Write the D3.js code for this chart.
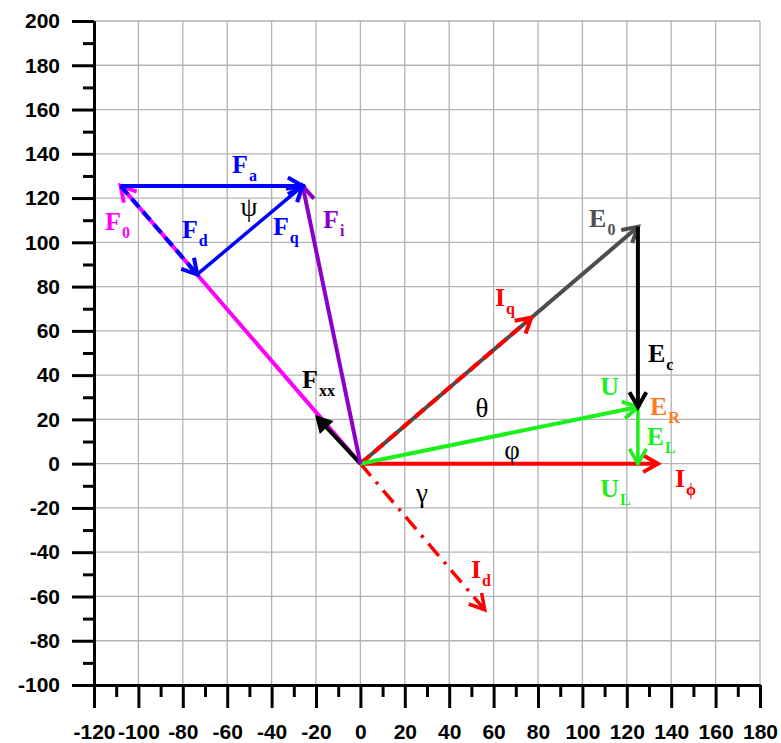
<!DOCTYPE html>
<html><head><meta charset="utf-8">
<script src="https://cdn.jsdelivr.net/npm/d3@7"></script>
<style>
html,body{margin:0;padding:0;background:#fff;}
svg{display:block;}
</style></head>
<body>
<svg id="chart" width="781" height="743"></svg>
<script>
// Axis extents and tick values
const xDomain = [-120, 180];
const yDomain = [-100, 200];
const xMajorTicks = d3.range(-120, 181, 20);
const xMinorTicks = d3.range(-110, 180, 20);
const yMajorTicks = d3.range(-100, 201, 20);
const yMinorTicks = d3.range(-90, 200, 20);

// Phasors: key, start point, end point (chart units)
const vectorKeys   = ["E0", "Iq", "Id", "Iphi", "U", "EL", "Ec", "F0", "Fd", "Fxx", "Fi", "Fa", "Fq"];
const vectorStarts = [[0,0], [0,0], [0,0], [0,0], [0,0], [125,25.6], [125,107], [0,0], [-108,125.5], [0,0], [0,0], [-108,125.5], [-73.5,85.5]];
const vectorEnds   = [[125,107], [77,66], [56,-66], [134,0], [125,25.6], [125,0], [125,25.6], [-108,125.5], [-73.5,85.5], [-20,21.5], [-26,125.5], [-26,125.5], [-26,125.5]];

// Vector labels: letter, subscript, anchor (chart units, left/baseline)
const labelMain = ["F", "F", "F", "F", "F", "F", "E", "I", "E", "U", "E", "E", "U", "I", "I"];
const labelSub  = ["a", "0", "d", "q", "i", "xx", "0", "q", "c", "", "R", "L", "L", "\u03d5", "d"];
const labelPos  = [[-57.8,131.3], [-115,105.5], [-80.4,102], [-39.4,103.3], [-16.8,106.5], [-26.3,34.2],
                   [103,107], [60.6,71.3], [129.5,46], [108,31], [130.4,22], [129,8.4], [108,-15], [141.7,-10.5], [49.8,-51.7]];

// Angle labels (chart units, centre)
const angleNames = ["\u03c8", "\u03b8", "\u03c6", "\u03b3"];
const anglePos   = [[-50.2,116], [54.8,25.2], [68.3,6.2], [27.7,-13.2]];

// ---- styles ----
const C = {
  red: "#ff0000", green: "#1cf01c", blue: "#0000ff", magenta: "#ff00ff",
  purple: "#8c00cc", gray: "#4d4d4d", black: "#000000", orange: "#ff7a22"
};
const vectorStyle = {
  E0:   {color: C.gray,    width: 4},
  Iq:   {color: C.red,     width: 4, dash: "12,6"},
  Id:   {color: C.red,     width: 3.5, dash: "16,8,3,8"},
  Iphi: {color: C.red,     width: 4},
  U:    {color: C.green,   width: 4},
  EL:   {color: C.green,   width: 3.5},
  Ec:   {color: C.black,   width: 4},
  F0:   {color: C.magenta, width: 4},
  Fd:   {color: C.blue,    width: 4, dash: "11,6"},
  Fxx:  {color: C.black,   width: 4, filled: true},
  Fi:   {color: C.purple,  width: 4},
  Fa:   {color: C.blue,    width: 4},
  Fq:   {color: C.blue,    width: 3.5}
};
const labelColor = {
  Fa: C.blue, F0: C.magenta, Fd: C.blue, Fq: C.blue, Fi: C.purple, Fxx: C.black,
  E0: "#505050", Iq: C.red, Ec: C.black, U: C.green, ER: C.orange, EL: C.green,
  UL: C.green, "I\u03d5": C.red, Id: C.red
};

const svg = d3.select("#chart");
const x = d3.scaleLinear().domain(xDomain).range([94, 760]);
const y = d3.scaleLinear().domain(yDomain).range([685, 21]);

// grid
const grid = svg.append("g").attr("stroke", "#b3b3b3").attr("stroke-width", 1.3);
grid.selectAll("line.v").data(xMajorTicks.filter(v => v > xDomain[0])).join("line")
  .attr("class", "v")
  .attr("x1", d => x(d)).attr("x2", d => x(d)).attr("y1", y(yDomain[0])).attr("y2", y(yDomain[1]));
grid.selectAll("line.h").data(yMajorTicks.filter(v => v > yDomain[0])).join("line")
  .attr("class", "h")
  .attr("y1", d => y(d)).attr("y2", d => y(d)).attr("x1", x(xDomain[0])).attr("x2", x(xDomain[1]));

function styleAxis(g) {
  g.select(".domain").attr("stroke", "#000").attr("stroke-width", 3);
  g.selectAll(".tick line").attr("stroke", "#000").attr("stroke-width", 3);
  g.selectAll(".tick text").attr("fill", "#000")
    .style("font-family", "'Liberation Sans', Arial, sans-serif")
    .style("font-weight", "bold").style("font-size", "21px");
}
const tickText = d => String(d);

// left axis
const yAxisG = svg.append("g").attr("transform", `translate(${x(xDomain[0])},0)`);
yAxisG.append("g").call(d3.axisLeft(y).tickValues(yMinorTicks).tickSize(11).tickSizeOuter(0).tickFormat(""))
  .call(styleAxis);
yAxisG.append("g").call(d3.axisLeft(y).tickValues(yMajorTicks).tickSize(22).tickSizeOuter(0).tickPadding(12).tickFormat(tickText))
  .call(styleAxis);

// bottom axis
const xAxisG = svg.append("g").attr("transform", `translate(0,${y(yDomain[0])})`);
xAxisG.append("g").call(d3.axisBottom(x).tickValues(xMinorTicks).tickSize(12).tickSizeOuter(0).tickFormat(""))
  .call(styleAxis);
xAxisG.append("g").call(d3.axisBottom(x).tickValues(xMajorTicks).tickSize(23).tickSizeOuter(0).tickPadding(16).tickFormat(tickText))
  .call(styleAxis);

// vectors
const vg = svg.append("g").attr("fill", "none");
vectorKeys.forEach((key, i) => {
  const st = vectorStyle[key];
  const s = vectorStarts[i], e = vectorEnds[i];
  const p0 = [x(s[0]), y(s[1])], p1 = [x(e[0]), y(e[1])];
  const ang = Math.atan2(p1[1] - p0[1], p1[0] - p0[0]);
  const len = 17, half = st.filled ? 0.5 : 0.52;
  const a1 = [p1[0] - len * Math.cos(ang - half), p1[1] - len * Math.sin(ang - half)];
  const a2 = [p1[0] - len * Math.cos(ang + half), p1[1] - len * Math.sin(ang + half)];
  const shaftEnd = st.filled ? [p1[0] - 12 * Math.cos(ang), p1[1] - 12 * Math.sin(ang)] : p1;
  const shaft = vg.append("line")
    .attr("x1", p0[0]).attr("y1", p0[1]).attr("x2", shaftEnd[0]).attr("y2", shaftEnd[1])
    .attr("stroke", st.color).attr("stroke-width", st.width).attr("stroke-linecap", "butt");
  if (st.dash) shaft.attr("stroke-dasharray", st.dash);
  if (st.filled) {
    vg.append("path")
      .attr("d", `M${a1[0]},${a1[1]}L${p1[0]},${p1[1]}L${a2[0]},${a2[1]}Z`)
      .attr("fill", st.color).attr("stroke", st.color).attr("stroke-width", 1.5).attr("stroke-linejoin", "miter");
  } else {
    vg.append("path")
      .attr("d", `M${a1[0]},${a1[1]}L${p1[0]},${p1[1]}L${a2[0]},${a2[1]}`)
      .attr("stroke", st.color).attr("stroke-width", st.width).attr("stroke-linejoin", "miter")
      .attr("stroke-miterlimit", 10);
  }
});

// vector labels
const lg = svg.append("g").style("font-family", "'Liberation Serif', 'Times New Roman', serif").style("font-weight", "bold");
labelMain.forEach((m, i) => {
  const key = m + labelSub[i];
  const t = lg.append("text")
    .attr("x", x(labelPos[i][0])).attr("y", y(labelPos[i][1]))
    .attr("fill", labelColor[key]).style("font-size", "26px");
  t.append("tspan").text(m);
  if (labelSub[i]) {
    t.append("tspan").attr("dx", 1).attr("dy", 8).style("font-size", "16px").text(labelSub[i]);
  }
});

// angle labels
svg.append("g").selectAll("text").data(angleNames).join("text")
  .attr("x", (d, i) => x(anglePos[i][0])).attr("y", (d, i) => y(anglePos[i][1]))
  .attr("text-anchor", "middle").attr("dominant-baseline", "central")
  .style("font-family", "'Liberation Serif', 'Times New Roman', serif")
  .style("font-size", "27px").attr("fill", "#000")
  .text(d => d);
</script>
</body></html>
